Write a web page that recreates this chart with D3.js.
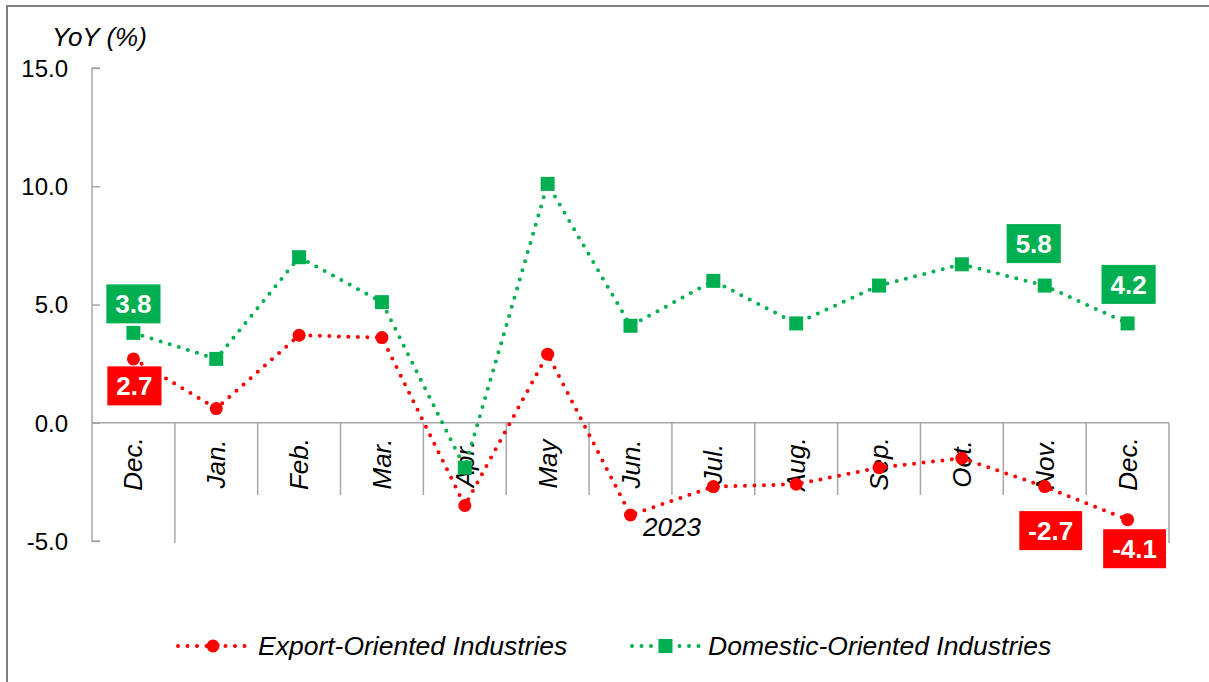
<!DOCTYPE html>
<html>
<head>
<meta charset="utf-8">
<script src="https://cdn.jsdelivr.net/npm/d3@7"></script>
<style>
  html, body { margin: 0; padding: 0; background: #fff; }
  svg { display: block; font-family: "Liberation Sans", Arial, sans-serif; }
</style>
</head>
<body>
<svg id="chart" width="1209" height="682"></svg>
<script>
// ---- data ----
const categories = ["Dec.", "Jan.", "Feb.", "Mar.", "Apr.", "May", "Jun.", "Jul.", "Aug.", "Sep.", "Oct.", "Nov.", "Dec."];
const yearLabel = "2023";
const exportValues = [2.7, 0.6, 3.7, 3.6, -3.5, 2.9, -3.9, -2.7, -2.6, -1.9, -1.5, -2.7, -4.1];
const domesticValues = [3.8, 2.7, 7.0, 5.1, -1.9, 10.1, 4.1, 6.0, 4.2, 5.8, 6.7, 5.8, 4.2];
const yTicks = [-5, 0, 5, 10, 15];
const seriesNames = ["Export-Oriented Industries", "Domestic-Oriented Industries"];
const yAxisTitle = "YoY (%)";
// data labels: category indices
const exportLabels = [0, 11, 12];
const domesticLabels = [0, 11, 12];

// ---- layout ----
const RED = "#FF0000", GREEN = "#00B050", AXIS = "#A6A6A6";
const svg = d3.select("#chart");
const fmt = v => d3.format(".1f")(v).replace("\u2212", "-");

const x = d3.scaleBand().domain(d3.range(categories.length)).range([92, 1169]).paddingInner(0).paddingOuter(0);
const y = d3.scaleLinear().domain([-5, 15]).range([541, 68]);
const cx = i => x(i) + x.bandwidth() / 2;

// outer border (top + left)
svg.append("path").attr("d", "M7,682 V6 H1209").attr("fill", "none").attr("stroke", "#7F7F7F").attr("stroke-width", 2);

// y axis
const yAxis = d3.axisLeft(y).tickValues(yTicks).tickSize(-8).tickPadding(24).tickFormat(fmt);
const gy = svg.append("g").attr("transform", "translate(92,0)").call(yAxis);
gy.select(".domain").attr("stroke", AXIS).attr("stroke-width", 1.5).attr("d", `M8,${y(15)}H0V${y(-5)}H8`);
gy.selectAll(".tick line").attr("stroke", AXIS).attr("stroke-width", 1.5);
gy.selectAll(".tick text").attr("font-size", 24).attr("fill", "#000").attr("x", -24).attr("dy", "0.35em");

// y axis title
svg.append("text").attr("x", 52).attr("y", 46).attr("font-size", 26).attr("font-style", "italic").text(yAxisTitle);

// category axis at y=0
const y0 = y(0);
svg.append("line").attr("x1", 92).attr("x2", 1169).attr("y1", y0).attr("y2", y0).attr("stroke", AXIS).attr("stroke-width", 1.5);
const boundaries = d3.range(categories.length + 1).map(i => i < categories.length ? x(i) : x(categories.length - 1) + x.bandwidth());
svg.append("g").selectAll("line").data(boundaries.slice(1)).join("line")
  .attr("x1", d => d).attr("x2", d => d)
  .attr("y1", y0)
  .attr("y2", (d, i) => (i === 0 || i === boundaries.length - 2) ? 543 : 495)
  .attr("stroke", AXIS).attr("stroke-width", 1.5);

// category labels
svg.append("g").selectAll("text").data(categories).join("text")
  .attr("transform", (d, i) => `translate(${cx(i)},464) rotate(-90)`)
  .attr("text-anchor", "middle").attr("dominant-baseline", "central")
  .attr("font-size", 26).attr("font-style", "italic").text(d => d);

// year label
svg.append("text").attr("x", (boundaries[1] + boundaries[boundaries.length - 1]) / 2).attr("y", 536)
  .attr("text-anchor", "middle").attr("font-size", 26).attr("font-style", "italic").text(yearLabel);

// lines
const line = d3.line().x((d, i) => cx(i)).y(d => y(d));
function drawLine(values, color) {
  svg.append("path").datum(values).attr("d", line).attr("fill", "none")
    .attr("stroke", color).attr("stroke-width", 4).attr("stroke-linecap", "round")
    .attr("stroke-dasharray", "0 9.5");
}
drawLine(domesticValues, GREEN);
drawLine(exportValues, RED);

// markers
svg.append("g").selectAll("rect").data(domesticValues).join("rect")
  .attr("x", (d, i) => cx(i) - 7).attr("y", d => y(d) - 7).attr("width", 14).attr("height", 14).attr("fill", GREEN);
svg.append("g").selectAll("circle").data(exportValues).join("circle")
  .attr("cx", (d, i) => cx(i)).attr("cy", d => y(d)).attr("r", 6.5).attr("fill", RED);

// data labels
const labelOffsets = {
  export: { 0: [1, 27], 11: [6, 44], 12: [7, 29] },
  domestic: { 0: [0, -29], 11: [-11, -42], 12: [1, -39] }
};
function drawLabels(idxs, values, color, key) {
  idxs.forEach(i => {
    const [dx, dy] = labelOffsets[key][i];
    const px = cx(i) + dx, py = y(values[i]) + dy;
    const g = svg.append("g").attr("transform", `translate(${px},${py})`);
    const t = g.append("text").attr("text-anchor", "middle").attr("dy", "0.36em")
      .attr("font-size", 26).attr("font-weight", "bold").attr("fill", "#fff").text(fmt(values[i]));
    const w = t.node().getComputedTextLength() + 18;
    g.insert("rect", "text").attr("x", -w / 2).attr("y", -19.5).attr("width", w).attr("height", 39).attr("fill", color);
  });
}
drawLabels(domesticLabels, domesticValues, GREEN, "domestic");
drawLabels(exportLabels, exportValues, RED, "export");

// legend
const legendY = 646;
const legendItems = [
  { name: seriesNames[0], color: RED, shape: "circle", x0: 178, x1: 248, tx: 258 },
  { name: seriesNames[1], color: GREEN, shape: "rect", x0: 632, x1: 699, tx: 708 }
];
legendItems.forEach(it => {
  svg.append("line").attr("x1", it.x0).attr("x2", it.x1).attr("y1", legendY).attr("y2", legendY)
    .attr("stroke", it.color).attr("stroke-width", 4).attr("stroke-linecap", "round").attr("stroke-dasharray", "0 9.5");
  const mx = (it.x0 + it.x1) / 2;
  if (it.shape === "circle") svg.append("circle").attr("cx", mx).attr("cy", legendY).attr("r", 6.5).attr("fill", it.color);
  else svg.append("rect").attr("x", mx - 7).attr("y", legendY - 7).attr("width", 14).attr("height", 14).attr("fill", it.color);
  svg.append("text").attr("x", it.tx).attr("y", legendY).attr("dy", "0.35em").attr("font-size", 26.5)
    .attr("font-style", "italic").text(it.name);
});
</script>
</body>
</html>
